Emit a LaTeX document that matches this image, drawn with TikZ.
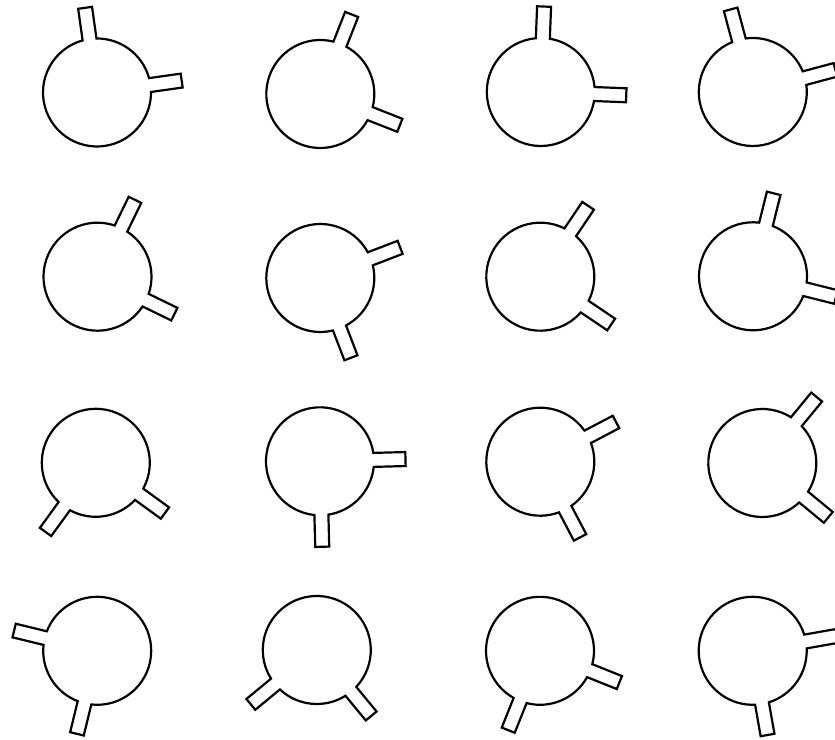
\documentclass[tikz,border=0pt]{standalone}
\tikzset{
  pbring/.style = {draw=black, line width=1.25pt, line join=miter},
}
\newcommand{\pbrad}{54}
\newcommand{\pbhalf}{7}
\newcommand{\pbtip}{85.5}

\begin{document}
\begin{tikzpicture}[x=0.02cm, y=0.02cm]
\useasboundingbox (0,0) rectangle (835,740);
\pgfmathsetmacro\pbang{asin(\pbhalf/\pbrad)}
\pgfmathsetmacro\pbneck{sqrt(\pbrad*\pbrad-\pbhalf*\pbhalf)}

% ring with two pins, the second one 90 degrees on from the first
\foreach \cx/\cy/\a in {%
  97/92.5/8,      320.3/94/-21.5,   540.8/92/-2.2,    752.8/92/15,
  97.5/276.7/-26, 320.3/278/-69,    540.3/276.7/-34,  753/276.3/-14,
  95.8/462.8/-126,320/461.3/-88.5,  540.3/461.7/-62.3,762.3/463/-39.5,
  97.2/650.8/166.3,316.8/650/-140.5,540/650.8/-111.8, 752.7/650.8/-80%
}{
  \begin{scope}[shift={(\cx,740-\cy)}]
    \draw[pbring] ([rotate=\a]\pbneck,\pbhalf)
      arc[start angle=\a+\pbang, end angle=\a+90-\pbang, radius=\pbrad]
      -- ([rotate=\a+90]\pbtip,-\pbhalf) -- ([rotate=\a+90]\pbtip,\pbhalf)
      -- ([rotate=\a+90]\pbneck,\pbhalf)
      arc[start angle=\a+90+\pbang, end angle=\a+360-\pbang, radius=\pbrad]
      -- ([rotate=\a]\pbtip,-\pbhalf) -- ([rotate=\a]\pbtip,\pbhalf) -- cycle;
  \end{scope}
}
\end{tikzpicture}
\end{document}
